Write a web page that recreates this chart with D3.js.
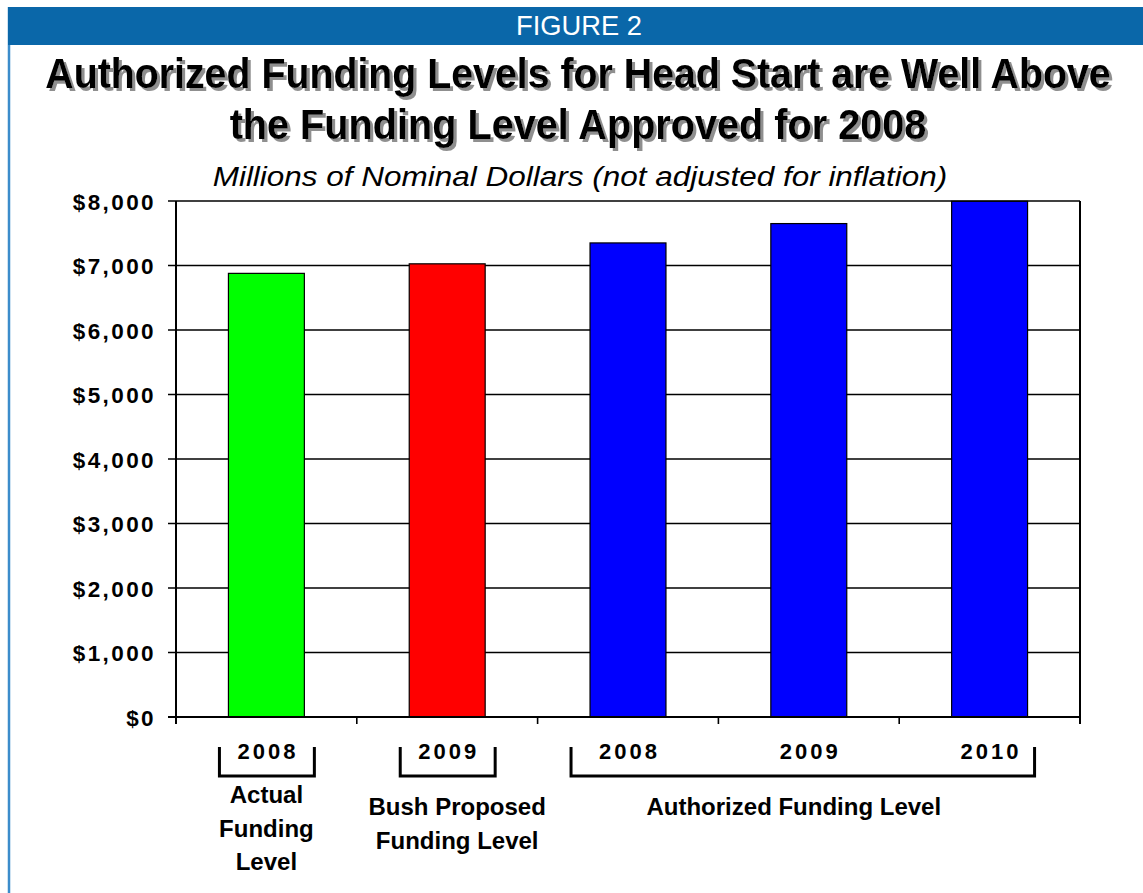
<!DOCTYPE html>
<html>
<head>
<meta charset="utf-8">
<script src="https://cdn.jsdelivr.net/npm/d3@7"></script>
<style>
  body { margin: 0; background: #fff; }
  svg text { font-family: Arial, "Liberation Sans", sans-serif; }
</style>
</head>
<body>
<svg id="chart" width="1143" height="893"></svg>
<script>
// data
const categories = ["2008", "2009", "2008", "2009", "2010"];
const values = [6878, 7026, 7350, 7650, 7995];
const barColors = ["#00ff00", "#ff0000", "#0000ff", "#0000ff", "#0000ff"];
const yTicks = [0, 1000, 2000, 3000, 4000, 5000, 6000, 7000, 8000];
const groupLabels = [["Actual", "Funding", "Level"], ["Bush Proposed", "Funding Level"], ["Authorized Funding Level"]];
const groupRanges = [[0, 0], [1, 1], [2, 4]];

const figureLabel = "FIGURE 2";
const titleLines = ["Authorized Funding Levels for Head Start are Well Above", "the Funding Level Approved for 2008"];
const subtitle = "Millions of Nominal Dollars (not adjusted for inflation)";

const svg = d3.select("#chart");
const margin = { left: 176, right: 1080, top: 201, bottom: 717 };

// shadow filter for the title
const shadow = svg.append("defs").append("filter")
  .attr("id", "shadow")
  .attr("x", "-5%").attr("y", "-20%")
  .attr("width", "110%").attr("height", "150%");
shadow.append("feOffset").attr("in", "SourceAlpha").attr("dx", 3).attr("dy", 3).attr("result", "off");
shadow.append("feFlood").attr("flood-color", "#8f8f8f").attr("result", "col");
shadow.append("feComposite").attr("in", "col").attr("in2", "off").attr("operator", "in").attr("result", "sh");
const merge = shadow.append("feMerge");
merge.append("feMergeNode").attr("in", "sh");
merge.append("feMergeNode").attr("in", "SourceGraphic");

// squeeze a text horizontally to a given width (condensed look)
function squeeze(sel, cx, cy, width) {
  const w = sel.node().getComputedTextLength();
  sel.attr("x", 0).attr("y", 0)
    .attr("transform", "translate(" + cx + "," + cy + ") scale(" + (width / w) + ",1)");
}

// frame + banner
svg.append("line")
  .attr("x1", 9).attr("x2", 9).attr("y1", 7).attr("y2", 893)
  .attr("stroke", "#3b8ccb").attr("stroke-width", 2.5);
svg.append("rect")
  .attr("x", 8).attr("y", 7).attr("width", 1143 - 8).attr("height", 38)
  .attr("fill", "#0a67a9");
const fig = svg.append("text")
  .attr("text-anchor", "middle")
  .attr("fill", "#fff")
  .style("font-size", "28px")
  .text(figureLabel);
squeeze(fig, 579, 35, 126);

// title
const titleY = [88, 139];
const titleW = [1066, 697];
titleLines.forEach(function (t, i) {
  const tt = svg.append("text")
    .attr("text-anchor", "middle")
    .attr("fill", "#000")
    .attr("filter", "url(#shadow)")
    .style("font-weight", "bold")
    .style("font-size", "42px")
    .text(t);
  squeeze(tt, 578, titleY[i], titleW[i]);
});

const sub = svg.append("text")
  .attr("text-anchor", "middle")
  .style("font-style", "italic")
  .style("font-size", "28px")
  .text(subtitle);
squeeze(sub, 580, 186, 735);

// scales
const x = d3.scaleBand()
  .domain(d3.range(categories.length))
  .range([margin.left, margin.right])
  .paddingInner(0.58)
  .paddingOuter(0.29);

const y = d3.scaleLinear()
  .domain([0, 8000])
  .range([margin.bottom, margin.top]);

// gridlines
svg.append("g")
  .selectAll("line")
  .data(yTicks)
  .join("line")
  .attr("x1", margin.left - 8).attr("x2", margin.right)
  .attr("y1", d => y(d)).attr("y2", d => y(d))
  .attr("stroke", "#000").attr("stroke-width", 1.6);

// y axis labels
const yAxis = d3.axisLeft(y)
  .tickValues(yTicks)
  .tickSize(0)
  .tickPadding(0)
  .tickFormat(d => "$" + d3.format(",")(d));
const yg = svg.append("g")
  .attr("transform", "translate(" + (margin.left - 20) + ",0)")
  .call(yAxis);
yg.select(".domain").remove();
yg.selectAll("text")
  .attr("fill", "#000")
  .style("font-size", "22.5px")
  .style("font-weight", "bold")
  .style("letter-spacing", "2.4px")
  .attr("dy", "0.36em");

// bars
svg.append("g")
  .selectAll("rect")
  .data(values)
  .join("rect")
  .attr("x", (d, i) => x(i))
  .attr("y", d => y(d))
  .attr("width", x.bandwidth())
  .attr("height", d => y(0) - y(d))
  .attr("fill", (d, i) => barColors[i])
  .attr("stroke", "#000")
  .attr("stroke-width", 1.2);

// plot frame
svg.append("line")
  .attr("x1", margin.left).attr("x2", margin.left)
  .attr("y1", margin.top).attr("y2", margin.bottom + 7)
  .attr("stroke", "#000").attr("stroke-width", 2);
svg.append("line")
  .attr("x1", margin.right).attr("x2", margin.right)
  .attr("y1", margin.top).attr("y2", margin.bottom + 7)
  .attr("stroke", "#000").attr("stroke-width", 2);
svg.append("line")
  .attr("x1", margin.left - 8).attr("x2", margin.right)
  .attr("y1", margin.bottom).attr("y2", margin.bottom)
  .attr("stroke", "#000").attr("stroke-width", 2.2);

// bottom ticks at category boundaries
svg.append("g")
  .selectAll("line")
  .data(d3.range(1, categories.length))
  .join("line")
  .attr("x1", i => x(i) - x.step() * x.paddingInner() / 2)
  .attr("x2", i => x(i) - x.step() * x.paddingInner() / 2)
  .attr("y1", margin.bottom).attr("y2", margin.bottom + 7)
  .attr("stroke", "#000").attr("stroke-width", 1.6);

// year labels
svg.append("g")
  .selectAll("text")
  .data(categories)
  .join("text")
  .attr("x", (d, i) => x(i) + x.bandwidth() / 2 + 1.5)
  .attr("y", 759)
  .attr("text-anchor", "middle")
  .style("font-size", "22px")
  .style("font-weight", "bold")
  .style("letter-spacing", "3px")
  .text(d => d);

// brackets under groups
const bracketPad = [[9, 10], [9, 10], [19, 7]];
const bracketTop = 747, bracketBottom = 776;
groupRanges.forEach(function (r, gi) {
  const x0 = x(r[0]) - bracketPad[gi][0];
  const x1 = x(r[1]) + x.bandwidth() + bracketPad[gi][1];
  svg.append("path")
    .attr("d", "M" + x0 + "," + bracketTop + "V" + bracketBottom + "H" + x1 + "V" + bracketTop)
    .attr("fill", "none")
    .attr("stroke", "#000")
    .attr("stroke-width", 3);
});

// group labels
const labelShift = [0, 10, -15];
const labelTop = [803, 815, 815];
groupRanges.forEach(function (r, gi) {
  const cx = (x(r[0]) + x(r[1]) + x.bandwidth()) / 2 + labelShift[gi];
  svg.append("g")
    .selectAll("text")
    .data(groupLabels[gi])
    .join("text")
    .attr("x", cx)
    .attr("y", (d, j) => labelTop[gi] + j * 33.5)
    .attr("text-anchor", "middle")
    .style("font-size", "24px")
    .style("font-weight", "bold")
    .text(d => d);
});
</script>
</body>
</html>
